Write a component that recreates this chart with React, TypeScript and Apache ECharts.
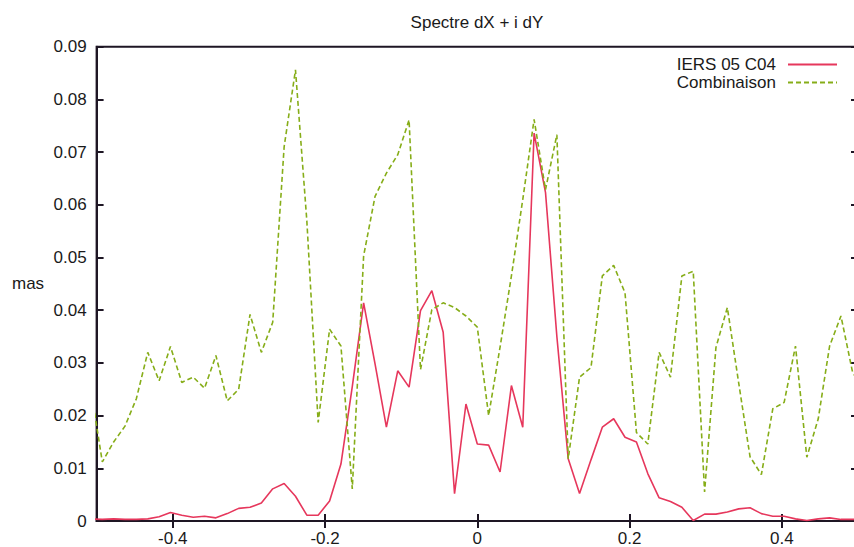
import React, { useEffect, useRef } from "react";
import * as echarts from "echarts";

const title = "Spectre dX + i dY";
const yAxisLabel = "mas";
const seriesNames = ["IERS 05 C04", "Combinaison"];
const xTickValues = [-0.4, -0.2, 0, 0.2, 0.4];

const frequencies = [
  -0.5075, -0.4925, -0.4776, -0.4627, -0.4478, -0.4328, -0.4179, -0.403, -0.3881, -0.3731,
  -0.3582, -0.3433, -0.3284, -0.3134, -0.2985, -0.2836, -0.2687, -0.2537, -0.2388, -0.2239,
  -0.209, -0.194, -0.1791, -0.1642, -0.1493, -0.1343, -0.1194, -0.1045, -0.0896, -0.0746,
  -0.0597, -0.0448, -0.0299, -0.0149, 0, 0.0149, 0.0299, 0.0448, 0.0597, 0.0746,
  0.0896, 0.1045, 0.1194, 0.1343, 0.1493, 0.1642, 0.1791, 0.194, 0.209, 0.2239,
  0.2388, 0.2537, 0.2687, 0.2836, 0.2985, 0.3134, 0.3284, 0.3433, 0.3582, 0.3731,
  0.3881, 0.403, 0.4179, 0.4328, 0.4478, 0.4627, 0.4776, 0.4925, 0.5075,
];

const iersValues = [
  0.0004, 0.0003, 0.0004, 0.0003, 0.0003, 0.0004, 0.0008, 0.0016, 0.0011, 0.0007,
  0.0009, 0.0006, 0.0014, 0.0024, 0.0026, 0.0034, 0.0061, 0.0071, 0.0047, 0.0011,
  0.0011, 0.0038, 0.0108, 0.0255, 0.0414, 0.0298, 0.0178, 0.0285, 0.0254, 0.0399,
  0.0437, 0.0358, 0.0052, 0.0222, 0.0146, 0.0144, 0.0093, 0.0257, 0.0178, 0.0736,
  0.0623, 0.035, 0.0118, 0.0052, 0.0116, 0.0178, 0.0194, 0.0159, 0.015, 0.009,
  0.0044, 0.0037, 0.0026, 0.0001, 0.0013, 0.0013, 0.0017, 0.0023, 0.0025, 0.0014,
  0.0009, 0.0009, 0.0004, 0.0001, 0.0004, 0.0006, 0.0003, 0.0003, 0.0003,
];

const combinaisonValues = [
  0.025, 0.0112, 0.015, 0.018, 0.0232, 0.032, 0.0266, 0.0331, 0.0263, 0.0273,
  0.0252, 0.0314, 0.0228, 0.025, 0.0392, 0.032, 0.0377, 0.071, 0.0856, 0.057,
  0.0187, 0.0364, 0.0332, 0.0061, 0.0503, 0.0616, 0.066, 0.0695, 0.0761, 0.0287,
  0.0401, 0.0414, 0.0405, 0.0389, 0.0368, 0.02, 0.033, 0.0465, 0.061, 0.0762,
  0.0629, 0.0733, 0.0118, 0.0273, 0.0291, 0.0465, 0.0485, 0.0433, 0.0168, 0.0146,
  0.032, 0.0273, 0.0465, 0.0474, 0.0055, 0.0329, 0.0405, 0.0262, 0.0122, 0.0088,
  0.0213, 0.0225, 0.0332, 0.0121, 0.0194, 0.0332, 0.0389, 0.0285, 0.024,
];

const FONT = "Liberation Sans, Arial, Helvetica, sans-serif";
const AXIS = "#1e1624";
const TEXT = "#1a1a1a";
const RED = "#e6375c";
const GREEN = "#86ad18";

export default function App() {
  const ref = useRef<HTMLDivElement>(null);

  useEffect(() => {
    if (!ref.current) return;
    const chart = echarts.init(ref.current, null, { renderer: "svg" });
    const pairs = (vals: number[]) => frequencies.map((f, i) => [f, vals[i]]);
    chart.setOption({
      animation: false,
      backgroundColor: "#ffffff",
      textStyle: { fontFamily: FONT },
      title: {
        text: title,
        left: 477,
        textAlign: "center",
        top: 14,
        padding: 0,
        textStyle: { fontSize: 17, fontWeight: "normal", color: TEXT, fontFamily: FONT },
      },
      legend: {
        orient: "vertical",
        align: "right",
        right: 32,
        top: 56,
        itemWidth: 49,
        itemHeight: 2,
        itemGap: 1,
        padding: 0,
        itemStyle: { opacity: 0 },
        textStyle: { fontSize: 17, color: TEXT, fontFamily: FONT, padding: [0, 7, 0, 0] },
        data: seriesNames,
      },
      graphic: [
        {
          type: "text",
          left: 12,
          top: 275,
          style: { text: yAxisLabel, fontSize: 17, fill: TEXT, fontFamily: FONT },
        },
      ],
      grid: {
        left: 96.6,
        right: 12,
        top: 46.7,
        bottom: 24.7,
        show: true,
        borderColor: AXIS,
        borderWidth: 2,
      },
      xAxis: [
        {
          type: "value",
          min: -0.5,
          max: 0.5,
          axisLine: { show: true, onZero: false, lineStyle: { color: AXIS, width: 2 } },
          axisTick: {
            show: true,
            inside: true,
            length: 7,
            customValues: xTickValues,
            lineStyle: { color: AXIS, width: 2 },
          },
          axisLabel: {
            show: true,
            customValues: xTickValues,
            fontSize: 17,
            color: TEXT,
            fontFamily: FONT,
            margin: 9,
          },
          splitLine: { show: false },
        },
        {
          type: "value",
          position: "bottom",
          min: -0.5,
          max: 0.5,
          axisLine: { show: false, onZero: false },
          axisTick: {
            show: true,
            inside: false,
            length: 7,
            customValues: xTickValues,
            lineStyle: { color: AXIS, width: 2 },
          },
          axisLabel: { show: false },
          splitLine: { show: false },
        },
      ],
      yAxis: [
        {
          type: "value",
          position: "left",
          min: 0,
          max: 0.09,
          interval: 0.01,
          axisLine: { show: true, onZero: false, lineStyle: { color: AXIS, width: 2 } },
          axisTick: { show: true, inside: true, length: 7, lineStyle: { color: AXIS, width: 2 } },
          axisLabel: { fontSize: 17, color: TEXT, fontFamily: FONT, margin: 10 },
          splitLine: { show: false },
        },
        {
          type: "value",
          position: "right",
          min: 0,
          max: 0.09,
          interval: 0.01,
          axisLine: { show: false, onZero: false },
          axisTick: { show: true, inside: true, length: 7, lineStyle: { color: AXIS, width: 2 } },
          axisLabel: { show: false },
          splitLine: { show: false },
        },
      ],
      series: [
        {
          name: seriesNames[0],
          type: "line",
          data: pairs(iersValues),
          symbol: "none",
          clip: true,
          lineStyle: { color: RED, width: 1.6 },
          itemStyle: { color: RED },
        },
        {
          name: seriesNames[1],
          type: "line",
          data: pairs(combinaisonValues),
          symbol: "none",
          clip: true,
          lineStyle: { color: GREEN, width: 1.6, type: [5, 3] },
          itemStyle: { color: GREEN },
        },
      ],
    });
    return () => chart.dispose();
  }, []);

  return (
    <div
      style={{
        position: "fixed",
        left: 0,
        top: 0,
        width: 854,
        height: 547,
        overflow: "hidden",
        background: "#fff",
      }}
    >
      <div ref={ref} style={{ width: 870, height: 547 }} />
    </div>
  );
}
